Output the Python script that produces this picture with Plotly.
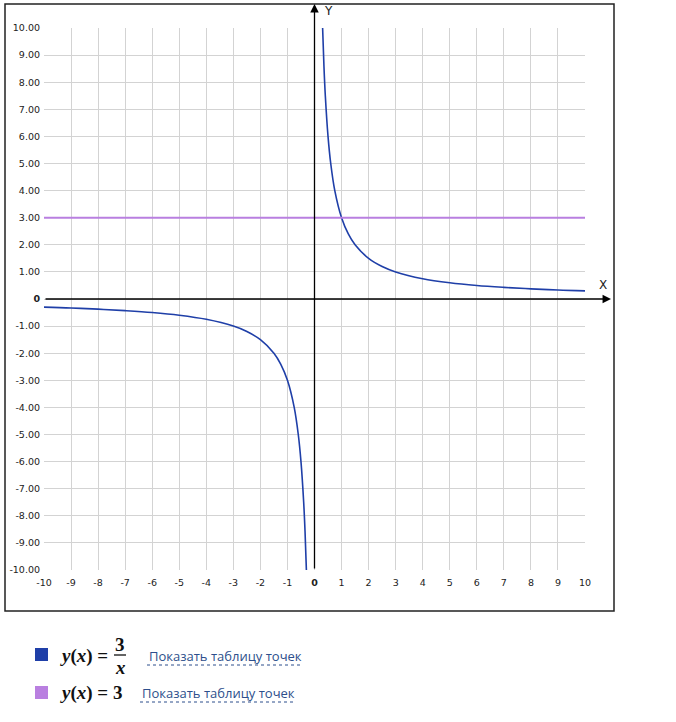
import plotly.graph_objects as go

# chart values
x_right = [0.3, 0.35, 0.4, 0.5, 0.6, 0.75, 1, 1.25, 1.5, 2, 2.5, 3, 4, 5, 6, 7, 8, 9, 10]
y_right = [10, 8.57, 7.5, 6, 5, 4, 3, 2.4, 2, 1.5, 1.2, 1, 0.75, 0.6, 0.5, 0.43, 0.375, 0.33, 0.3]
x_left = [-10, -9, -8, -7, -6, -5, -4, -3, -2.5, -2, -1.5, -1.25, -1, -0.75, -0.6, -0.5, -0.4, -0.35, -0.3]
y_left = [-0.3, -0.33, -0.375, -0.43, -0.5, -0.6, -0.75, -1, -1.2, -1.5, -2, -2.4, -3, -4, -5, -6, -7.5, -8.57, -10]
x_const = [-10, 10]
y_const = [3, 3]

x_ticks = list(range(-10, 11))
y_ticks = list(range(-10, 11))
x_ticktext = ["<b>0</b>" if v == 0 else str(v) for v in x_ticks]
y_ticktext = ["<b>0</b>" if v == 0 else "%.2f" % v for v in y_ticks]

legend_labels = ["Показать таблицу точек", "Показать таблицу точек"]

BLUE = "#1f3fa8"
PURPLE = "#b97fe0"
W, H = 676, 722
# plot area edges in pixels
L, R, T, B = 44, 585, 28, 570


def px(p):
    # pixel column -> paper x
    return (p - L) / (R - L)


def py(p):
    # pixel row -> paper y
    return (B - p) / (B - T)


fig = go.Figure()
fig.add_trace(go.Scatter(x=x_right, y=y_right, mode="lines", line=dict(color=BLUE, width=1.6, shape="spline"),
                         showlegend=False, hoverinfo="skip"))
fig.add_trace(go.Scatter(x=x_left, y=y_left, mode="lines", line=dict(color=BLUE, width=1.6, shape="spline"),
                         showlegend=False, hoverinfo="skip"))
fig.add_trace(go.Scatter(x=x_const, y=y_const, mode="lines", line=dict(color=PURPLE, width=2),
                         showlegend=False, hoverinfo="skip"))

tickfont = dict(family="DejaVu Sans", size=9.5, color="#222")
fig.update_xaxes(range=[-10, 10], tickvals=x_ticks, ticktext=x_ticktext, showgrid=True,
                 gridcolor="#d3d3d3", gridwidth=1, zeroline=False, showline=False, ticks="",
                 tickfont=tickfont, ticklabelstandoff=5, fixedrange=True)
fig.update_yaxes(range=[-10, 10], tickvals=y_ticks, ticktext=y_ticktext, showgrid=True,
                 gridcolor="#d3d3d3", gridwidth=1, zeroline=False, showline=False, ticks="",
                 tickfont=tickfont, ticklabelstandoff=3, fixedrange=True)

shapes = []
# outer frame
shapes.append(dict(type="rect", xref="paper", yref="paper", x0=px(5), x1=px(614), y0=py(611), y1=py(4),
                   line=dict(color="#222", width=1.5), fillcolor="rgba(0,0,0,0)", layer="below"))

annotations = []
# axes with arrows
annotations.append(dict(xref="paper", yref="y", x=px(611), y=0, ax=-(611 - L), ay=0,
                        showarrow=True, arrowhead=2, arrowsize=1.3, arrowwidth=1.3, arrowcolor="#000", text=""))
annotations.append(dict(xref="x", yref="paper", x=0, y=py(4), ax=0, ay=B - 4,
                        showarrow=True, arrowhead=2, arrowsize=1.3, arrowwidth=1.3, arrowcolor="#000", text=""))
annotations.append(dict(xref="paper", yref="paper", x=px(603), y=py(285), xanchor="center", yanchor="middle",
                        text="X", showarrow=False, font=dict(family="DejaVu Sans", size=12, color="#222")))
annotations.append(dict(xref="paper", yref="paper", x=px(328), y=py(11), xanchor="center", yanchor="middle",
                        text="Y", showarrow=False, font=dict(family="DejaVu Sans", size=12, color="#222")))

# legend below the chart
mathfont = dict(family="Liberation Serif", size=19, color="#111")
linkfont = dict(family="Open Sans", size=13, color="#2d4f8c")
rows = [(655, BLUE), (693, PURPLE)]
for (yc, col) in rows:
    shapes.append(dict(type="rect", xref="paper", yref="paper", x0=px(35), x1=px(48), y0=py(yc + 6), y1=py(yc - 7),
                       line=dict(width=0), fillcolor=col))

annotations.append(dict(xref="paper", yref="paper", x=px(58), y=py(656), xanchor="left", yanchor="middle",
                        text="<b><i>y</i>(<i>x</i>) =</b>", showarrow=False, font=mathfont))
annotations.append(dict(xref="paper", yref="paper", x=px(120), y=py(644), xanchor="center", yanchor="middle",
                        text="<b>3</b>", showarrow=False, font=mathfont))
annotations.append(dict(xref="paper", yref="paper", x=px(120), y=py(667), xanchor="center", yanchor="middle",
                        text="<b><i>x</i></b>", showarrow=False, font=mathfont))
shapes.append(dict(type="line", xref="paper", yref="paper", x0=px(114), x1=px(126), y0=py(655), y1=py(655),
                   line=dict(color="#111", width=1.3)))
annotations.append(dict(xref="paper", yref="paper", x=px(58), y=py(693), xanchor="left", yanchor="middle",
                        text="<b><i>y</i>(<i>x</i>) = 3</b>", showarrow=False, font=mathfont))

link_pos = [(147, 656, 300), (140, 693, 294)]
for (x0, yc, x1), label in zip(link_pos, legend_labels):
    annotations.append(dict(xref="paper", yref="paper", x=px(x0), y=py(yc), xanchor="left", yanchor="middle",
                            text=label, showarrow=False, font=linkfont))
    shapes.append(dict(type="line", xref="paper", yref="paper", x0=px(x0), x1=px(x1), y0=py(yc + 9), y1=py(yc + 9),
                       line=dict(color="#2d4f8c", width=1, dash="dot")))

fig.update_layout(width=W, height=H, margin=dict(l=L, r=W - R, t=T, b=H - B, autoexpand=False),
                  paper_bgcolor="white", plot_bgcolor="white", shapes=shapes, annotations=annotations,
                  showlegend=False)

# drop the default body margin so the figure sits at the window corner
fig.write_html("out.html", config={"displayModeBar": False},
               post_script="document.body.style.margin='0';")
